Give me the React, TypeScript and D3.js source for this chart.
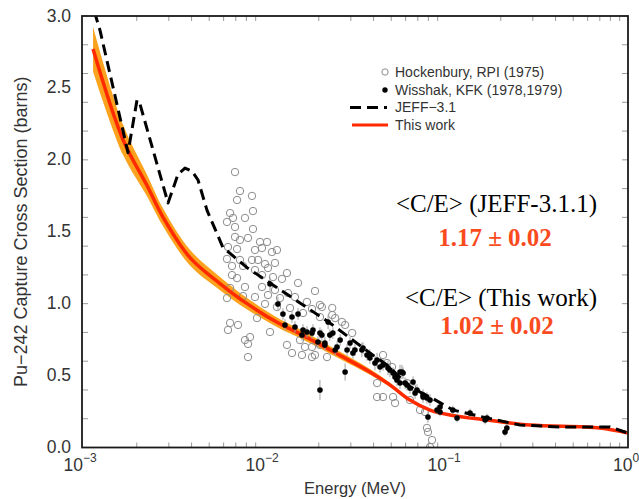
import React from 'react';
import * as d3 from 'd3';

const width = 639;
const height = 499;
const margin = { top: 16, right: 11, bottom: 51.5, left: 82 };

// "This work" evaluation (MeV, barns) and its uncertainty half-width
const thisWorkE = [1.15e-3, 1.68e-3, 2.28e-3, 2.79e-3, 3.92e-3, 5.73e-3, 8.07e-3, 1.22e-2, 1.58e-2, 2.62e-2, 3.82e-2, 4.92e-2, 6.34e-2, 8.17e-2, 0.105, 0.168, 0.29, 0.7, 1.0];
const thisWorkXS = [2.77, 2.14, 1.82, 1.6, 1.32, 1.14, 1.0, 0.86, 0.79, 0.64, 0.525, 0.435, 0.33, 0.26, 0.226, 0.191, 0.156, 0.136, 0.1];
const thisWorkErr = [0.155, 0.105, 0.075, 0.062, 0.055, 0.046, 0.04, 0.033, 0.03, 0.025, 0.02, 0.015, 0.01, 0.008, 0.005, 0.004, 0.003, 0.003, 0.003];

// JEFF-3.1 evaluation
const jeffE = [1.17e-3, 1.256e-3, 1.79e-3, 2.006e-3, 2.08e-3, 2.97e-3, 3.37e-3, 3.68e-3, 4.02e-3, 4.34e-3, 4.86e-3, 5.95e-3, 6.51e-3, 8.07e-3, 1.079e-2, 1.577e-2, 2.3e-2, 3.82e-2, 4.74e-2, 6.34e-2, 8.17e-2, 0.109, 0.168, 0.255, 0.423, 0.796, 1.0];
const jeffXS = [3.03, 2.9, 2.05, 2.416, 2.39, 1.7, 1.9, 1.943, 1.922, 1.86, 1.65, 1.39, 1.35, 1.25, 1.144, 1.005, 0.866, 0.657, 0.574, 0.421, 0.351, 0.261, 0.205, 0.156, 0.143, 0.143, 0.1];

// Hockenbury, RPI (1975): [E, sigma]
const hockenbury: [number, number][] = [
  [6.93e-3, 1.915], [7.38e-3, 1.783], [8.59e-3, 1.749], [7.11e-3, 1.721], [8.7e-3, 1.644],
  [6.51e-3, 1.63], [6.76e-3, 1.596], [6.26e-3, 1.568], [7.86e-3, 1.596], [6.93e-3, 1.533],
  [8.7e-3, 1.519], [6.93e-3, 1.464], [7.38e-3, 1.443], [8.17e-3, 1.457], [6.34e-3, 1.394],
  [9.51e-3, 1.429], [1.039e-2, 1.429], [8.92e-3, 1.373], [9.75e-3, 1.387], [1.106e-2, 1.359],
  [1.178e-2, 1.373], [7.11e-3, 1.38], [6.26e-3, 1.311], [7.38e-3, 1.304], [8.59e-3, 1.304],
  [9.27e-3, 1.304], [1.013e-2, 1.276], [6.67e-3, 1.262], [7.67e-3, 1.262], [8.92e-3, 1.234],
  [1.052e-2, 1.248], [1.149e-2, 1.283], [1.337e-2, 1.213], [6.67e-3, 1.199], [7.11e-3, 1.178],
  [9.75e-3, 1.199], [1.12e-2, 1.185], [1.255e-2, 1.172], [1.538e-2, 1.144], [6.51e-3, 1.109],
  [7.86e-3, 1.116], [9.75e-3, 1.116], [1.149e-2, 1.095], [1.355e-2, 1.074], [1.906e-2, 1.088],
  [7.67e-3, 1.053], [8.92e-3, 1.046], [1.052e-2, 1.06], [1.224e-2, 1.039], [1.48e-2, 1.046],
  [1.722e-2, 1.012], [2.08e-2, 0.977], [1.013e-2, 0.998], [1.178e-2, 0.977], [1.39e-2, 0.97],
  [1.638e-2, 0.935], [1.835e-2, 0.963], [2.03e-2, 0.907], [2.37e-2, 0.921], [6.26e-3, 1.039],
  [6.51e-3, 0.866], [7.2e-3, 0.852], [6.34e-3, 0.817], [9.15e-3, 0.9], [1.079e-2, 0.803],
  [8.38e-3, 0.768], [7.86e-3, 0.747], [8.17e-3, 0.72], [1.337e-2, 0.713], [1.577e-2, 0.747],
  [1.835e-2, 0.699], [2.03e-2, 0.713], [1.425e-2, 0.657], [1.617e-2, 0.643], [1.835e-2, 0.629],
  [8.17e-3, 0.629], [2.37e-2, 0.97], [2.68e-2, 0.873], [2.79e-2, 0.852], [3.05e-2, 0.796],
  [2.46e-2, 0.9], [2.03e-2, 0.991], [1.68e-2, 0.699], [1.906e-2, 0.643], [2.22e-2, 0.629],
  [4.51e-2, 0.643], [4.74e-2, 0.587], [5.05e-2, 0.56], [4.18e-2, 0.448], [4.51e-2, 0.351],
  [4.18e-2, 0.351], [5.12e-2, 0.351], [6.11e-2, 0.448], [6.5e-2, 0.421], [5.25e-2, 0.309],
  [6.34e-2, 0.33], [7.2e-2, 0.261], [7.67e-2, 0.247], [7.86e-2, 0.136], [7.96e-2, 0.108],
  [8.38e-2, 0.052], [8.17e-2, 0.003],
];

// Wisshak, KFK (1978,1979): [E, sigma, error]
const wisshak: [number, number, number][] = [
  [1.079e-2, 1.137, 0.05], [1.193e-2, 0.998, 0.05], [1.271e-2, 0.928, 0.04], [1.425e-2, 0.907, 0.04],
  [1.538e-2, 0.928, 0.04], [1.304e-2, 0.852, 0.04], [1.48e-2, 0.838, 0.04], [1.722e-2, 0.803, 0.04],
  [1.617e-2, 0.782, 0.04], [1.858e-2, 0.817, 0.04], [2.03e-2, 0.796, 0.04], [1.98e-2, 0.734, 0.04],
  [2.16e-2, 0.713, 0.04], [2.3e-2, 0.782, 0.04], [2.25e-2, 0.873, 0.05], [2.46e-2, 0.678, 0.04],
  [1.638e-2, 0.817, 0.04], [1.835e-2, 0.796, 0.04], [2.08e-2, 0.782, 0.04], [2.16e-2, 0.727, 0.04],
  [2.52e-2, 0.699, 0.04], [2.86e-2, 0.678, 0.04], [3.08e-2, 0.657, 0.04], [3.45e-2, 0.678, 0.05],
  [3.68e-2, 0.643, 0.04], [3.82e-2, 0.622, 0.04], [2.79e-2, 0.525, 0.06], [2.03e-2, 0.4, 0.07],
  [4.07e-2, 0.587, 0.05], [4.34e-2, 0.56, 0.04], [4.8e-2, 0.553, 0.05], [5.12e-2, 0.518, 0.04],
  [5.59e-2, 0.525, 0.05], [5.81e-2, 0.518, 0.04], [5.38e-2, 0.469, 0.04], [5.59e-2, 0.448, 0.04],
  [6.11e-2, 0.435, 0.04], [6.34e-2, 0.414, 0.04], [6.76e-2, 0.379, 0.04], [7.48e-2, 0.365, 0.04],
  [7.86e-2, 0.344, 0.04], [7.96e-2, 0.212, 0.04], [8.93e-2, 0.261, 0.03], [9.27e-2, 0.247, 0.03],
  [0.109, 0.261, 0.03], [0.115, 0.205, 0.03], [0.1355, 0.24, 0.03], [0.164, 0.191, 0.03],
  [0.168, 0.205, 0.03], [0.211, 0.108, 0.03], [0.216, 0.136, 0.03],
  [2.39e-2, 0.796, 0.04], [2.62e-2, 0.747, 0.04], [2.97e-2, 0.727, 0.04], [3.16e-2, 0.678, 0.04],
  [3.5e-2, 0.692, 0.04], [3.82e-2, 0.643, 0.04], [4.18e-2, 0.608, 0.05], [4.51e-2, 0.574, 0.04],
  [4.92e-2, 0.539, 0.05], [5.25e-2, 0.49, 0.04], [5.73e-2, 0.525, 0.05], [5.96e-2, 0.448, 0.04],
  [6.59e-2, 0.455, 0.04], [6.93e-2, 0.4, 0.04], [7.48e-2, 0.351, 0.04], [8.17e-2, 0.33, 0.04],
  [9.27e-2, 0.282, 0.03],
];

const yTickLabels = ['0.0', '0.5', '1.0', '1.5', '2.0', '2.5', '3.0'];
const yTickValues = [0, 0.5, 1, 1.5, 2, 2.5, 3];
const xDecades = [1e-3, 1e-2, 1e-1, 1];
const xExponents = ['−3', '−2', '−1', '0'];

const legendItems = ['Hockenbury, RPI (1975)', 'Wisshak, KFK (1978,1979)', 'JEFF−3.1', 'This work'];

const App = () => {
  const left = margin.left;
  const right = width - margin.right;
  const top = margin.top;
  const bottom = height - margin.bottom;

  const x = d3.scaleLog().domain([1e-3, 1]).range([left, right]);
  const y = d3.scaleLinear().domain([0, 3]).range([bottom, top]);

  const thisWork = thisWorkE.map((e, i) => ({ e, v: thisWorkXS[i], s: thisWorkErr[i] }));
  const jeff = jeffE.map((e, i) => ({ e, v: jeffXS[i] }));

  const band = d3.area<{ e: number; v: number; s: number }>()
    .x(d => x(d.e))
    .y0(d => y(d.v - d.s))
    .y1(d => y(d.v + d.s))
    .curve(d3.curveCatmullRom.alpha(0.5));
  const smooth = d3.line<{ e: number; v: number }>()
    .x(d => x(d.e))
    .y(d => y(d.v))
    .curve(d3.curveCatmullRom.alpha(0.5));
  const straight = d3.line<{ e: number; v: number }>()
    .x(d => x(d.e))
    .y(d => y(d.v));

  const xMinor = x.ticks().filter(t => !xDecades.some(d => Math.abs(d - t) / d < 1e-6));
  const yMinor = y.ticks(12);
  const tickColor = '#9a9a9a';
  const red = '#ff2a00';

  return (
    <svg width={width} height={height} style={{ position: 'absolute', left: 0, top: 0, background: '#fff' }}
      fontFamily="'Liberation Sans', Arial, sans-serif">
      <defs>
        <clipPath id="plot">
          <rect x={left} y={top} width={right - left} height={bottom - top} />
        </clipPath>
      </defs>

      {/* ticks */}
      {yMinor.map(t => (
        <g key={`yt-${t}`} stroke={tickColor} strokeWidth={1}>
          <line x1={left} x2={left + 6} y1={y(t)} y2={y(t)} />
          <line x1={right} x2={right - 6} y1={y(t)} y2={y(t)} />
        </g>
      ))}
      {xMinor.map(t => (
        <g key={`xt-${t}`} stroke={tickColor} strokeWidth={1}>
          <line x1={x(t)} x2={x(t)} y1={bottom} y2={bottom - 5} />
          <line x1={x(t)} x2={x(t)} y1={top} y2={top + 5} />
        </g>
      ))}

      <g clipPath="url(#plot)">
        <path d={band(thisWork) || ''} fill="#fba31e" />
        {hockenbury.map((d, i) => (
          <circle key={`h-${i}`} cx={x(d[0])} cy={y(d[1])} r={3.7} fill="none" stroke="#8c8c8c" strokeWidth={1} />
        ))}
        <path d={smooth(thisWork) || ''} fill="none" stroke={red} strokeWidth={3.5} />
        {wisshak.map((d, i) => (
          <line key={`we-${i}`} x1={x(d[0])} x2={x(d[0])} y1={y(d[1] - d[2])} y2={y(d[1] + d[2])} stroke="#a0a0a0" strokeWidth={1} />
        ))}
        {wisshak.map((d, i) => (
          <circle key={`w-${i}`} cx={x(d[0])} cy={y(d[1])} r={2.8} fill="#000" />
        ))}
        <path d={straight(jeff) || ''} fill="none" stroke="#000" strokeWidth={3} strokeDasharray="11 6" strokeLinejoin="round" />
      </g>

      {/* frame */}
      <rect x={left} y={top} width={right - left} height={bottom - top} fill="none" stroke="#1a1a1a" strokeWidth={1.8} />

      {/* y tick labels */}
      {yTickValues.map((t, i) => (
        <text key={`yl-${t}`} x={left - 11} y={y(t) + 5.5} textAnchor="end" fontSize={17.5} fill="#333">{yTickLabels[i]}</text>
      ))}
      {/* x tick labels */}
      {xDecades.map((t, i) => (
        <text key={`xl-${t}`} x={x(t) - 2} y={bottom + 23} textAnchor="middle" fontSize={17.5} fill="#333">
          10<tspan fontSize={12} dy={-9}>{xExponents[i]}</tspan>
        </text>
      ))}

      <text x={(left + right) / 2} y={494} textAnchor="middle" fontSize={16.5} fill="#333">Energy (MeV)</text>
      <text transform={`translate(27, ${(top + bottom) / 2}) rotate(-90)`} textAnchor="middle" fontSize={18} fill="#333">
        Pu−242 Capture Cross Section (barns)
      </text>

      {/* legend */}
      <g fontSize={14} fill="#333">
        <circle cx={385} cy={72} r={3.2} fill="none" stroke="#8c8c8c" strokeWidth={1} />
        <circle cx={385} cy={90} r={2.7} fill="#000" />
        <line x1={350} x2={387} y1={107.5} y2={107.5} stroke="#000" strokeWidth={3} strokeDasharray="11 6" />
        <line x1={352} x2={388} y1={125} y2={125} stroke={red} strokeWidth={3} />
        {legendItems.map((t, i) => (
          <text key={t} x={395} y={77 + i * 17.7}>{t}</text>
        ))}
      </g>

      {/* C/E annotations */}
      <g fontFamily="'Liberation Serif', 'Times New Roman', serif">
        <text x={597} y={212} textAnchor="end" fontSize={25} fill="#000">&lt;C/E&gt; (JEFF-3.1.1)</text>
        <text x={495} y={246} textAnchor="middle" fontSize={25} fontWeight="bold" fill="#fa4b1e">1.17 ± 0.02</text>
        <text x={597} y={306} textAnchor="end" fontSize={25} fill="#000">&lt;C/E&gt; (This work)</text>
        <text x={497} y={334} textAnchor="middle" fontSize={25} fontWeight="bold" fill="#fa4b1e">1.02 ± 0.02</text>
      </g>
    </svg>
  );
};

export default App;
